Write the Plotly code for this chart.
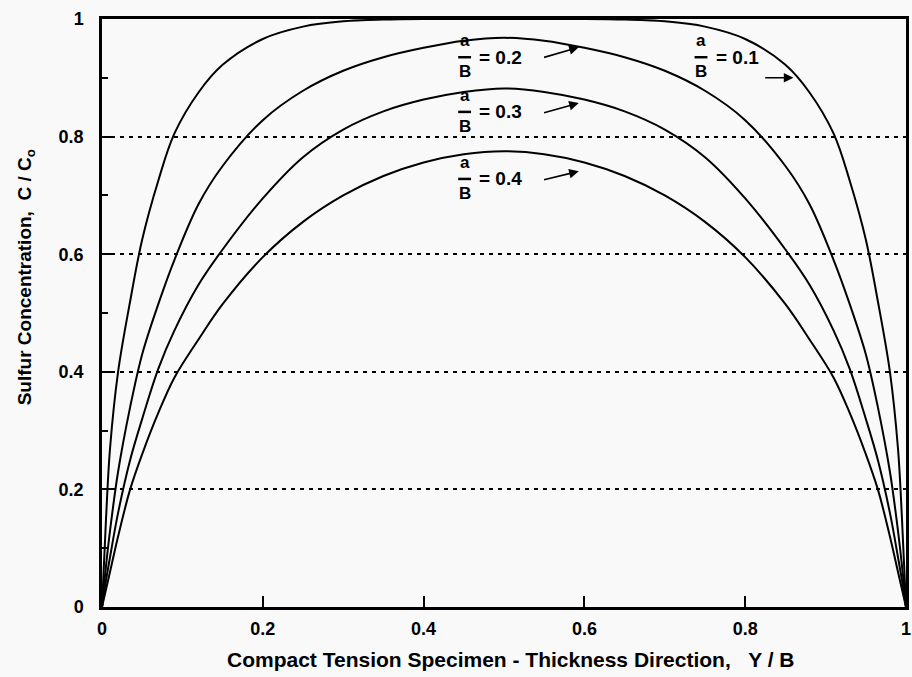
import plotly.graph_objects as go

# Normalised thickness position Y/B (left half; right half mirrors it)
y_over_b_half = [0.0, 0.005, 0.01, 0.02, 0.035, 0.05, 0.07, 0.09, 0.12, 0.15,
                 0.2, 0.25, 0.3, 0.35, 0.4, 0.45, 0.5]

# Sulfur concentration C/Co for each crack depth ratio a/B
conc_a01 = [0.0, 0.15, 0.27, 0.40, 0.52, 0.625, 0.725, 0.805, 0.875, 0.922,
            0.966, 0.987, 0.996, 0.999, 1.0, 1.0, 1.0]
conc_a02 = [0.0, 0.07, 0.13, 0.23, 0.34, 0.43, 0.515, 0.59, 0.685, 0.75,
            0.828, 0.878, 0.912, 0.935, 0.951, 0.963, 0.968]
conc_a03 = [0.0, 0.045, 0.085, 0.16, 0.25, 0.32, 0.405, 0.47, 0.548, 0.608,
            0.695, 0.765, 0.812, 0.843, 0.863, 0.876, 0.882]
conc_a04 = [0.0, 0.03, 0.06, 0.12, 0.20, 0.26, 0.33, 0.39, 0.455, 0.515,
            0.595, 0.655, 0.70, 0.733, 0.756, 0.77, 0.775]

series = [("0.1", conc_a01), ("0.2", conc_a02), ("0.3", conc_a03), ("0.4", conc_a04)]

tick_vals = [0, 0.2, 0.4, 0.6, 0.8, 1]
tick_text = ["0", "0.2", "0.4", "0.6", "0.8", "1"]


def full_profile(half_x, half_c):
    xs = list(half_x) + [1 - v for v in reversed(half_x[:-1])]
    cs = list(half_c) + list(reversed(half_c[:-1]))
    return xs, cs


FONT = "Liberation Sans, Arial, sans-serif"

fig = go.Figure()
for name, conc in series:
    xs, cs = full_profile(y_over_b_half, conc)
    fig.add_trace(go.Scatter(
        x=xs, y=cs, mode="lines", name="a/B = " + name,
        line=dict(color="black", width=2, shape="spline", smoothing=1.0),
        showlegend=False, hoverinfo="skip",
    ))

# Curve labels: a over B fraction, "= value", and a pointer arrow
labels = [
    # value, fraction x, equation y, arrow tail (x, y), arrow head (x, y)
    ("0.2", 0.451, 0.935, (0.548, 0.934), (0.593, 0.952)),
    ("0.3", 0.451, 0.842, (0.548, 0.840), (0.593, 0.857)),
    ("0.4", 0.451, 0.728, (0.548, 0.726), (0.593, 0.741)),
    ("0.1", 0.745, 0.935, (0.823, 0.900), (0.860, 0.900)),
]

annotations = []
shapes = []
frac_font = dict(family=FONT, size=17, color="black", weight="bold")
eq_font = dict(family=FONT, size=19, color="black", weight="bold")
for val, fx, ey, tail, head in labels:
    annotations.append(dict(x=fx, y=ey + 0.028, xref="x", yref="y", text="a",
                            showarrow=False, font=frac_font))
    annotations.append(dict(x=fx, y=ey - 0.024, xref="x", yref="y", text="B",
                            showarrow=False, font=frac_font))
    shapes.append(dict(type="line", xref="x", yref="y", x0=fx - 0.008, x1=fx + 0.008,
                       y0=ey, y1=ey, line=dict(color="black", width=2.5)))
    annotations.append(dict(x=fx + 0.016, y=ey, xref="x", yref="y", text="= " + val,
                            xanchor="left", showarrow=False, font=eq_font))
    annotations.append(dict(x=head[0], y=head[1], ax=tail[0], ay=tail[1],
                            xref="x", yref="y", axref="x", ayref="y", text="",
                            showarrow=True, arrowhead=2, arrowsize=1.2,
                            arrowwidth=1.6, arrowcolor="black"))

# Axis titles
annotations.append(dict(x=0.509, y=-0.09, xref="paper", yref="paper",
                        text="Compact Tension Specimen - Thickness Direction,&nbsp;&nbsp;&nbsp;Y / B",
                        showarrow=False, yanchor="middle",
                        font=dict(family=FONT, size=21, color="black", weight="bold")))
annotations.append(dict(x=-0.095, y=0.56, xref="paper", yref="paper",
                        text="Sulfur Concentration,&nbsp;&nbsp;C / C<sub>o</sub>",
                        textangle=-90, showarrow=False, xanchor="center",
                        font=dict(family=FONT, size=19, color="black", weight="bold")))

axis_common = dict(
    range=[0, 1], tickvals=tick_vals, ticktext=tick_text,
    ticks="inside", ticklen=11, tickwidth=1.5, tickcolor="black",
    showline=True, linecolor="black", linewidth=2.5, mirror=True,
    zeroline=False, ticklabeloverflow="allow",
    tickfont=dict(family=FONT, size=18, color="black", weight="bold"),
)

fig.update_layout(
    width=912, height=677,
    margin=dict(l=102, r=1, t=19, b=70),
    paper_bgcolor="#f9f9f9", plot_bgcolor="#f9f9f9",
    xaxis=dict(**axis_common, showgrid=False, ticklabelstandoff=4),
    yaxis=dict(**axis_common, showgrid=True, gridcolor="black", gridwidth=1.5,
               griddash="4px,5px", ticklabelstandoff=12,
               minor=dict(ticks="inside", dtick=0.1, ticklen=6, tickwidth=1.5,
                          tickcolor="black", showgrid=False)),
    annotations=annotations,
    shapes=shapes,
)

fig.write_html("out.html")
